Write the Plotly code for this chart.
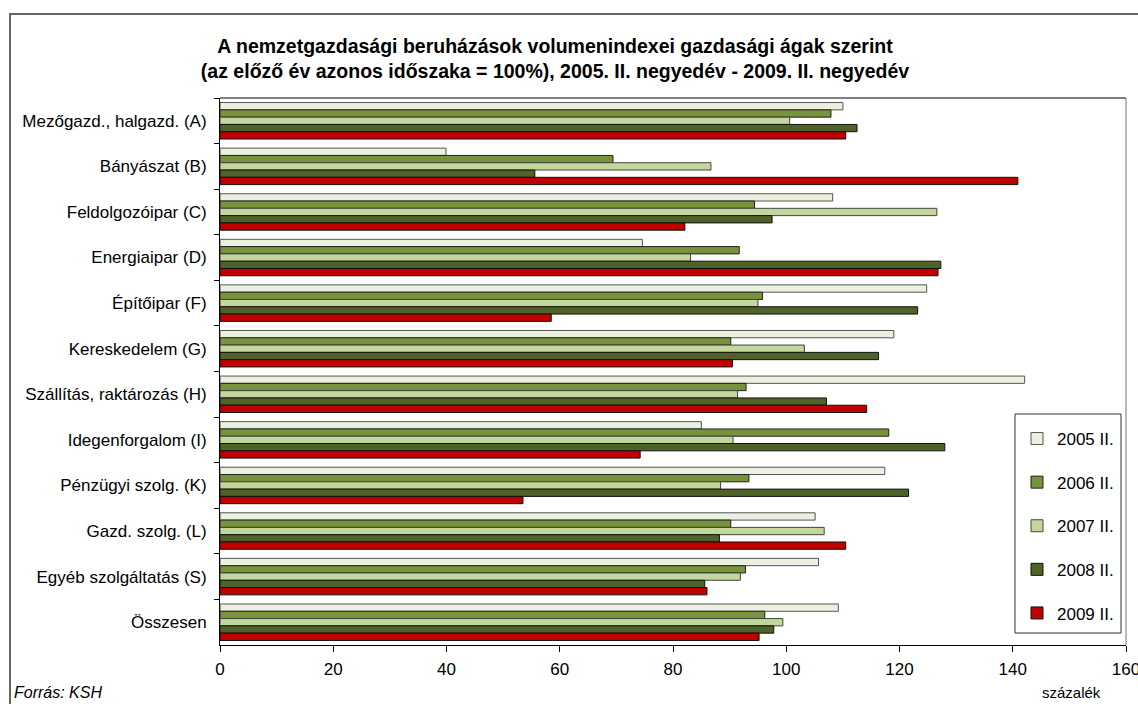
import plotly.graph_objects as go

# Categories, top to bottom
categories = [
    "Mezőgazd., halgazd. (A)", "Bányászat (B)", "Feldolgozóipar (C)",
    "Energiaipar (D)", "Építőipar (F)", "Kereskedelem (G)",
    "Szállítás, raktározás (H)", "Idegenforgalom (I)", "Pénzügyi szolg. (K)",
    "Gazd. szolg. (L)", "Egyéb szolgáltatás (S)", "Összesen",
]

series_names = ["2005 II.", "2006 II.", "2007 II.", "2008 II.", "2009 II."]

v2005 = [110.0, 39.9, 108.2, 74.6, 124.8, 119.0, 142.1, 85.0, 117.4, 105.1, 105.7, 109.2]
v2006 = [107.9, 69.4, 94.4, 91.7, 95.8, 90.2, 92.9, 118.1, 93.4, 90.2, 92.8, 96.2]
v2007 = [100.6, 86.7, 126.6, 83.1, 95.0, 103.2, 91.4, 90.6, 88.4, 106.7, 91.9, 99.4]
v2008 = [112.5, 55.6, 97.5, 127.3, 123.2, 116.3, 107.1, 128.0, 121.6, 88.2, 85.6, 97.8]
v2009 = [110.5, 140.9, 82.1, 126.8, 58.5, 90.5, 114.2, 74.2, 53.5, 110.5, 86.0, 95.2]

x_ticks = [0, 20, 40, 60, 80, 100, 120, 140, 160]

colors = ["#EBF1DE", "#77933C", "#C3D69B", "#4F6228", "#C00000"]
outline = ["#555555", "#222222", "#444444", "#111111", "#111111"]

FONT = "Liberation Sans, Arial, sans-serif"

fig = go.Figure()
for name, vals, col, oc in zip(series_names, [v2005, v2006, v2007, v2008, v2009], colors, outline):
    fig.add_trace(go.Bar(
        y=categories, x=vals, name=name, orientation="h",
        marker=dict(color=col, line=dict(color=oc, width=1)),
        legendgroup=name,
    ))

# plot area is roughly x 220..1126, y 98..645 in pixels
L, R, T, B = 220, 12, 98, 59
W, H = 1138, 704
pw, ph = W - L - R, H - T - B


def px_x(p):
    return (p - L) / pw


def px_y(p):
    return (H - B - p) / ph


fig.update_layout(
    width=W, height=H,
    margin=dict(l=L, r=R, t=T, b=B),
    paper_bgcolor="white", plot_bgcolor="white",
    font=dict(family=FONT, size=17, color="black"),
    barmode="group", bargap=0.2, bargroupgap=0,
    title=dict(
        text="<b>A nemzetgazdasági beruházások volumenindexei gazdasági ágak szerint<br>"
             "(az előző év azonos időszaka = 100%), 2005. II. negyedév - 2009. II. negyedév</b>",
        x=555 / W, xref="container", xanchor="center",
        y=1 - 53 / H, yanchor="middle",
        font=dict(family=FONT, size=19.5, color="black"),
    ),
    legend=dict(
        x=px_x(1017), y=px_y(421), xanchor="left", yanchor="top",
        borderwidth=0, bgcolor="rgba(0,0,0,0)",
        traceorder="grouped", tracegroupgap=18.5,
        font=dict(size=17),
    ),
    xaxis=dict(
        range=[0, 160], tickvals=x_ticks, showgrid=False, zeroline=False,
        showline=True, linecolor="black", linewidth=1,
        ticks="outside", ticklen=6, tickcolor="black",
        ticklabelstandoff=3, ticklabeloverflow="allow", automargin=False,
    ),
    yaxis=dict(
        autorange="reversed", showgrid=False,
        showline=True, linecolor="black", linewidth=1,
        ticks="outside", ticklen=5, tickcolor="black", tickson="boundaries",
        ticklabelstandoff=9, automargin=False,
    ),
    shapes=[
        # top and right plot-area border
        dict(type="line", xref="paper", yref="paper", x0=0, x1=1, y0=1, y1=1,
             line=dict(color="#555555", width=1.5)),
        dict(type="line", xref="paper", yref="paper", x0=1, x1=1, y0=0, y1=1,
             line=dict(color="#777777", width=1)),
        # outer chart frame
        dict(type="rect", xref="paper", yref="paper",
             x0=px_x(10), x1=px_x(1145), y0=px_y(14), y1=px_y(715),
             line=dict(color="#666666", width=2)),
        # legend box
        dict(type="rect", xref="paper", yref="paper",
             x0=px_x(1015), x1=px_x(1121), y0=px_y(414), y1=px_y(633),
             line=dict(color="#333333", width=1), fillcolor="white", layer="below"),
    ],
    annotations=[
        dict(text="<i>Forrás: KSH</i>", xref="paper", yref="paper",
             x=px_x(12), y=px_y(692), xanchor="left", yanchor="middle",
             showarrow=False, font=dict(size=16)),
        dict(text="százalék", xref="paper", yref="paper",
             x=px_x(1071), y=px_y(692), xanchor="center", yanchor="middle",
             showarrow=False, font=dict(size=15)),
    ],
)

# drop the default body margin so the figure sits at the window origin
fig.write_html("out.html", config={"displayModeBar": False},
               post_script="document.body.style.margin='0';")
